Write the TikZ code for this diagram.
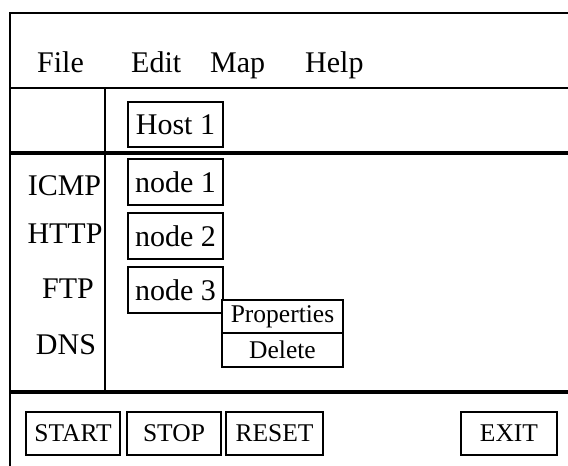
\documentclass[tikz,border=0pt]{standalone}
\usepackage{fontspec}
\setmainfont{Liberation Serif}
\begin{document}
\begin{tikzpicture}[x=1pt,y=-1pt,
  big/.style={font=\fontsize{30}{32}\selectfont, inner sep=0pt},
  small/.style={font=\fontsize{25.5}{27}\selectfont, inner sep=0pt},
  box/.style={draw, line width=1.7pt, inner sep=0pt, minimum height=45pt},
  rule/.style={line width=2.2pt},
  heavy/.style={line width=3.2pt},
  heavier/.style={line width=4.8pt}]
\useasboundingbox (0,0) rectangle (568,466);
% frame
\draw[rule] (10,466) -- (10,13) -- (568,13);
\draw[rule] (10,88) -- (568,88);
\draw[heavy] (10,153) -- (568,153);
\draw[rule] (105,88) -- (105,392);
\draw[heavier] (10,392) -- (568,392);
% menu
\node[big, anchor=base west] (file) at (37,72) {File};
\node[big, anchor=base west] (edit) at (131,72) {Edit};
\node[big, anchor=base west] (map)  at (210,72) {Map};
\node[big, anchor=base west] (help) at (305,72) {Help};
% host
\node[box, big, minimum width=95pt] (host) at (175.5,124.5) {Host 1};
% protocols
\node[big, anchor=base] (icmp) at (64.5,195) {ICMP};
\node[big, anchor=base] (http) at (65,243) {HTTP};
\node[big, anchor=base] (ftp)  at (68,298) {FTP};
\node[big, anchor=base] (dns)  at (66,354) {DNS};
% nodes
\node[box, big, minimum width=95pt, minimum height=46pt] (n1) at (175.5,182) {node 1};
\node[box, big, minimum width=95pt, minimum height=46pt] (n2) at (175.5,236) {node 2};
\node[box, big, minimum width=95pt, minimum height=46pt] (n3) at (175.5,290) {node 3};
% popup
\node[box, small, minimum width=121pt, minimum height=33pt, fill=white] (prop) at (282.5,316.5) {Properties};
\node[box, small, minimum width=121pt, minimum height=34pt] (del) at (282.5,350) {Delete};
% buttons
\node[box, small, minimum width=94pt, minimum height=43pt] (start) at (73,433.5) {START};
\node[box, small, minimum width=94pt, minimum height=43pt] (stop)  at (174,433.5) {STOP};
\node[box, small, minimum width=97pt, minimum height=43pt] (reset) at (274.5,433.5) {RESET};
\node[box, small, minimum width=96pt, minimum height=43pt] (exit)  at (509,433.5) {EXIT};
\end{tikzpicture}
\end{document}
